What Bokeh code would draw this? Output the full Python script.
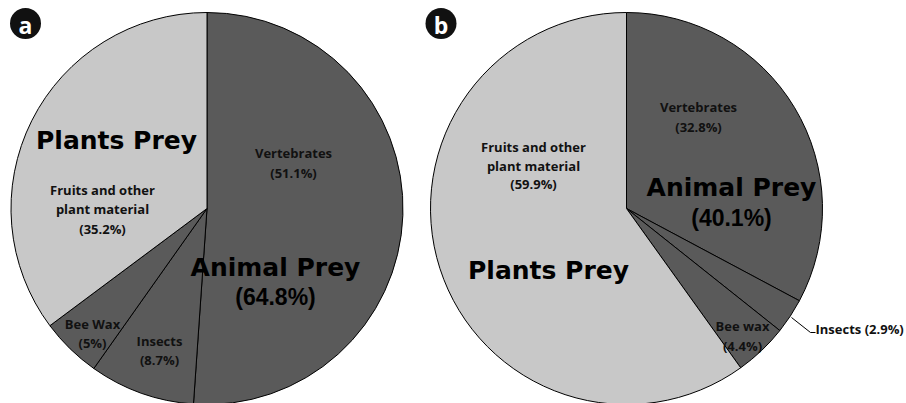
import math
from bokeh.plotting import figure
from bokeh.models import Range1d
from bokeh.core.properties import value
from bokeh.embed import file_html
from bokeh.resources import INLINE

# ---- data ----
panel_labels = ["a", "b"]
categories_a = ["Vertebrates", "Insects", "Bee Wax", "Fruits and other plant material"]
values_a = [51.1, 8.7, 5.0, 35.2]
groups_a = ["Animal", "Animal", "Animal", "Plant"]

categories_b = ["Vertebrates", "Insects", "Bee wax", "Fruits and other plant material"]
values_b = [32.8, 2.9, 4.4, 59.9]
groups_b = ["Animal", "Animal", "Animal", "Plant"]

group_names = {"Animal": "Animal Prey", "Plant": "Plants Prey"}
group_colors = {"Animal": "#5a5a5a", "Plant": "#c8c8c8"}

# ---- layout (image pixel coordinates) ----
W, H = 906, 403
R = 196
centers = [(206.5, 208), (626, 208)]
SMALL = value("Open Sans")
BIG = value("DejaVu Sans")
PCT = value("Liberation Sans")

p = figure(width=W, height=H, output_backend="svg", toolbar_location=None,
           x_range=Range1d(0, W), y_range=Range1d(-H, 0),
           min_border=0)
p.axis.visible = False
p.grid.visible = False
p.outline_line_color = None
p.background_fill_color = "white"
p.border_fill_color = "white"


def Y(y):
    return -y


def pct(v):
    return f"({v:g}%)"


# ---- wedges ----
for (cx, cy), vals, grps in [(centers[0], values_a, groups_a), (centers[1], values_b, groups_b)]:
    total = sum(vals)
    cum = 0.0
    starts, ends, cols = [], [], []
    for v, g in zip(vals, grps):
        starts.append(math.pi / 2 - 2 * math.pi * cum / total)
        cum += v
        ends.append(math.pi / 2 - 2 * math.pi * cum / total)
        cols.append(group_colors[g])
    p.wedge(x=[cx] * len(vals), y=[Y(cy)] * len(vals), radius=R,
            start_angle=starts, end_angle=ends, direction="clock",
            fill_color=cols, line_color="black", line_width=1)


def txt(x, y, s, font=SMALL, size="13px", align="center", color="#111111"):
    p.text(x=[x], y=[Y(y)], text=[s], text_font=font, text_font_style="bold",
           text_font_size=size, text_align=align, text_baseline="middle",
           text_color=color)


def animal_total(vals, grps):
    return round(sum(v for v, g in zip(vals, grps) if g == "Animal"), 1)


# ---- labels pie a ----
txt(116, 140, group_names["Plant"], BIG, "25px", color="black")
txt(102, 189, "Fruits and other")
txt(102, 208, "plant material")
txt(102, 228, pct(values_a[3]))
txt(293, 152, categories_a[0])
txt(293, 172, pct(values_a[0]))
txt(275, 267, group_names["Animal"], BIG, "25px", color="black")
txt(275, 296, pct(animal_total(values_a, groups_a)), PCT, "23px", color="black")
txt(92, 323, categories_a[2])
txt(92, 342, pct(values_a[2]))
txt(159, 340, categories_a[1])
txt(159, 359, pct(values_a[1]))

# ---- labels pie b ----
txt(698, 106, categories_b[0])
txt(698, 126, pct(values_b[0]))
txt(533, 146, "Fruits and other")
txt(533, 165, "plant material")
txt(533, 183, pct(values_b[3]))
txt(731, 187, group_names["Animal"], BIG, "25px", color="black")
txt(731, 217, pct(animal_total(values_b, groups_b)), PCT, "23px", color="black")
txt(548, 270, group_names["Plant"], BIG, "25px", color="black")
txt(742, 325, categories_b[2])
txt(742, 345, pct(values_b[2]))
txt(815, 328, f"{categories_b[1]} {pct(values_b[1])}", align="left")
p.line(x=[791, 810, 815], y=[Y(317), Y(332), Y(332)], line_color="black", line_width=1)

# ---- panel badges ----
badge_pos = [(25, 23), (440.5, 23)]
for (bx, by), lab in zip(badge_pos, panel_labels):
    p.circle(x=[bx], y=[Y(by)], radius=15.5, fill_color="#111111", line_color=None)
    p.text(x=[bx], y=[Y(by) - 1], text=[lab], text_font=value("Open Sans"),
           text_font_style="bold", text_font_size="23px", text_align="center",
           text_baseline="middle", text_color="white")

open("out.html", "w").write(file_html(p, INLINE))
